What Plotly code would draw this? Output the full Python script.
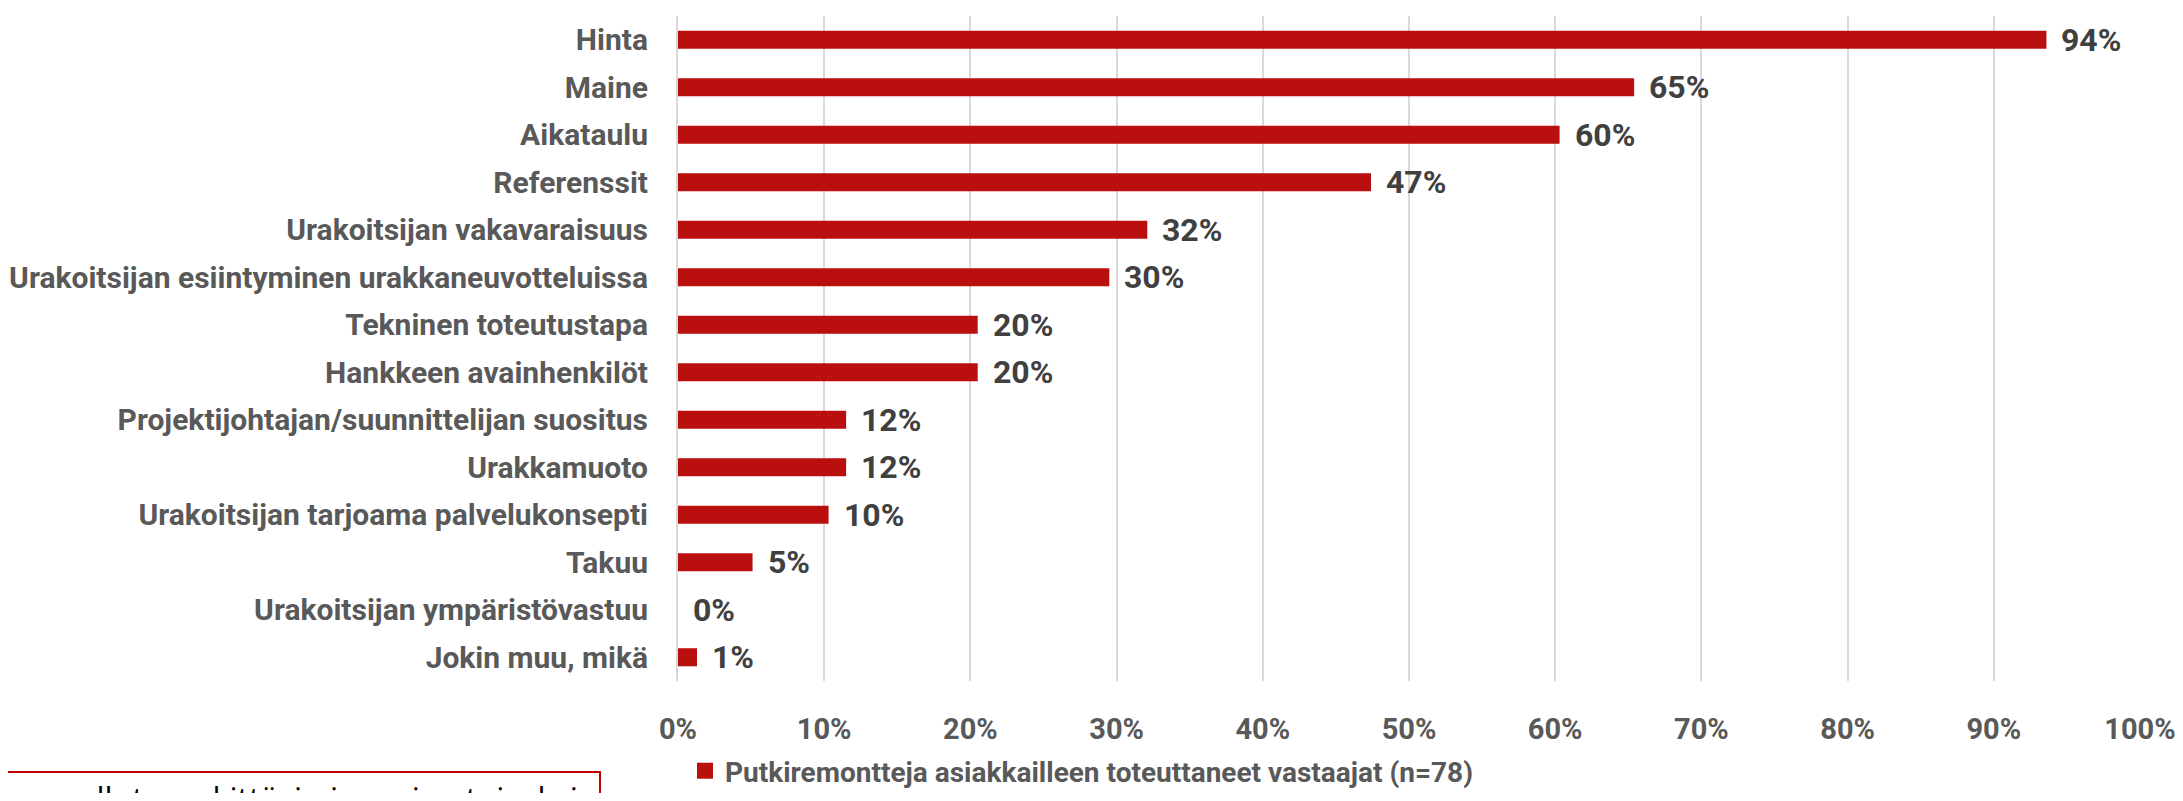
import plotly.graph_objects as go

categories = [
    "Hinta", "Maine", "Aikataulu", "Referenssit", "Urakoitsijan vakavaraisuus",
    "Urakoitsijan esiintyminen urakkaneuvotteluissa", "Tekninen toteutustapa",
    "Hankkeen avainhenkilöt", "Projektijohtajan/suunnittelijan suositus",
    "Urakkamuoto", "Urakoitsijan tarjoama palvelukonsepti", "Takuu",
    "Urakoitsijan ympäristövastuu", "Jokin muu, mikä",
]
values = [93.6, 65.4, 60.3, 47.4, 32.1, 29.5, 20.5, 20.5, 11.5, 11.5, 10.3, 5.1, 0.0, 1.3]
series_name = "Putkiremontteja asiakkailleen toteuttaneet vastaajat (n=78)"
tick_vals = [0, 10, 20, 30, 40, 50, 60, 70, 80, 90, 100]
tick_text = ["0%", "10%", "20%", "30%", "40%", "50%", "60%", "70%", "80%", "90%", "100%"]
note_text = "on ollut merkittävin ja maine toiseksi"

# The page body has an 8px default margin, so the figure is sized to fit the window.
OFF = 8
W, H = 2183 - 2 * OFF, 801 - 2 * OFF
ML, MT = 678 - OFF, 16 - OFF
MR = W - (2140 - OFF)
MB = H - (681 - OFF)
PW, PH = W - ML - MR, H - MT - MB

FONT = "Roboto, 'Open Sans', sans-serif"
BAR = "#BA0F0F"

fig = go.Figure()
fig.add_trace(go.Bar(
    x=values, y=categories, orientation="h",
    marker=dict(color=BAR, line=dict(width=0)),
    name=series_name, showlegend=False, legendgroup="s",
    width=0.38,
))
# legend entry (bigger square symbol than the bar legend glyph)
fig.add_trace(go.Scatter(
    x=[None], y=[None], mode="markers", name=series_name, legendgroup="s",
    marker=dict(symbol="square", size=20, color=BAR), showlegend=True,
))

for c, v in zip(categories, values):
    fig.add_annotation(
        x=v, y=c, xref="x", yref="y", text=f"<b>{v:.0f}%</b>",
        showarrow=False, xanchor="left", yanchor="middle", xshift=13,
        font=dict(family=FONT, size=32, color="#404040"),
    )

def px_x(p):  # page pixel -> paper
    return (p - OFF - ML) / PW

def px_y(p):
    return (H - MB - (p - OFF)) / PH

fig.add_shape(
    type="rect", xref="paper", yref="paper",
    x0=px_x(-5), x1=px_x(600), y0=px_y(840), y1=px_y(772),
    line=dict(color="#C00000", width=2), fillcolor="rgba(0,0,0,0)",
)
fig.add_annotation(
    x=px_x(580), y=px_y(775), xref="paper", yref="paper",
    text=note_text, showarrow=False, xanchor="right", yanchor="top",
    font=dict(family="'Open Sans', 'Liberation Sans', sans-serif", size=32, color="#000000"),
)

fig.update_layout(
    width=W, height=H,
    margin=dict(l=ML, r=MR, t=MT, b=MB, autoexpand=False),
    paper_bgcolor="white", plot_bgcolor="white",
    font=dict(family=FONT, color="#595959"),
    bargap=0.62,
    legend=dict(
        orientation="h", x=px_x(685), y=px_y(771), xanchor="left", yanchor="middle",
        font=dict(family=FONT, size=28, color="#595959", weight="bold"),
        itemsizing="trace", itemwidth=30,
    ),
    xaxis=dict(
        range=[0, 100], tickvals=tick_vals, ticktext=tick_text,
        showgrid=True, gridcolor="#D9D9D9", gridwidth=2,
        zeroline=False, showline=False, automargin=False,
        ticklabeloverflow="allow",
        tickfont=dict(family=FONT, size=29, color="#595959", weight="bold"),
        ticks="outside", ticklen=22, tickcolor="rgba(0,0,0,0)",
        fixedrange=True,
    ),
    yaxis=dict(
        categoryorder="array", categoryarray=categories, autorange="reversed",
        showgrid=False, zeroline=False, showline=True, linecolor="#D9D9D9", linewidth=2,
        automargin=False,
        tickfont=dict(family=FONT, size=30, color="#595959", weight="bold"),
        ticks="outside", ticklen=22, tickcolor="rgba(0,0,0,0)",
        fixedrange=True,
    ),
)

fig.write_html("out.html")
